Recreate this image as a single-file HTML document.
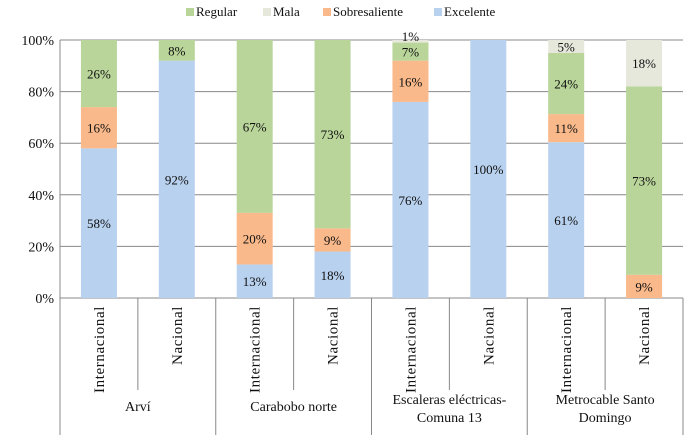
<!DOCTYPE html>
<html><head><meta charset="utf-8"><style>
body{margin:0;background:#fff;font-family:"Liberation Serif","DejaVu Serif",serif}
svg{display:block}
svg text{font-family:"Liberation Serif","DejaVu Serif",serif !important;fill:#111}
</style></head><body>
<svg id="c" width="700" height="442" font-family="Liberation Serif, DejaVu Serif, serif"></svg>
<script>
const categories=["Internacional","Nacional","Internacional","Nacional","Internacional","Nacional","Internacional","Nacional"];
const groups=["Arví","Carabobo norte","Escaleras eléctricas-|Comuna 13","Metrocable Santo|Domingo"];
const excelente=[58,92,13,18,76,100,61,0];
const sobresaliente=[16,0,20,9,16,0,11,9];
const regular=[26,8,67,73,7,0,24,73];
const mala=[0,0,0,0,1,0,5,18];
const yTicks=[0,20,40,60,80,100];
const series=[["Excelente",excelente,"#b8d1ee"],["Sobresaliente",sobresaliente,"#f9b98b"],["Regular",regular,"#b9d59a"],["Mala",mala,"#e7e8dc"]];
const svg=document.getElementById('c');const NS="http://www.w3.org/2000/svg";
const FF="Liberation Serif, DejaVu Serif, serif";
function el(t,a,p){const e=document.createElementNS(NS,t);for(const k in a)e.setAttribute(k,a[k]);if(t==='text')e.setAttribute('font-family',FF);(p||svg).appendChild(e);return e;}
const L=60,R=683,T=40,B=298;const slot=(R-L)/categories.length;
const y=v=>B-(B-T)*v/100;const xc=i=>L+slot*(i+0.5);
yTicks.forEach(t=>{const g=el('line',{x1:L,x2:R,y1:y(t),y2:y(t),stroke:'#888','stroke-width':1});

const tx=el('text',{x:L-6,y:y(t)+5,'text-anchor':'end','font-size':14});tx.textContent=t+'%';
});
el('line',{x1:L,x2:L,y1:T,y2:B,stroke:'#888'});
categories.forEach((c,i)=>{let tot=0;series.forEach(s=>tot+=s[1][i]);let acc=0;
series.forEach(s=>{const v=s[1][i];if(v<=0)return;const v0=acc/tot*100,v1=(acc+v)/tot*100;acc+=v;
const r=el('rect',{x:xc(i)-18,width:36,y:y(v1),height:y(v0)-y(v1),fill:s[2]});

const tx=el('text',{x:xc(i),y:(y(v0)+y(v1))/2+5,'text-anchor':'middle','font-size':13});

tx.textContent=v+'%';if(v==1)tx.setAttribute('y',y(v1)+1);});
const lt=el('text',{transform:`translate(${xc(i)+5},${B+8}) rotate(-90)`,'text-anchor':'end','font-size':15,'letter-spacing':'0.6'});
lt.textContent=c;});
for(let k=0;k<=categories.length;k++){const big=k%2==0;
el('line',{x1:L+slot*k,x2:L+slot*k,y1:B,y2:big?435:390,stroke:'#888'});}
groups.forEach((g,j)=>{const cx=L+slot*(2*j+1);const parts=g.split('|');
parts.forEach((p,m)=>{const t=el('text',{x:cx,y:(parts.length>1?404:411)+m*18,'text-anchor':'middle','font-size':14});
t.textContent=p;});});
const leg=[["Regular","#b9d59a",186],["Mala","#e7e8dc",263],["Sobresaliente","#f9b98b",323],["Excelente","#b8d1ee",434]];
leg.forEach(l=>{const r=el('rect',{x:l[2],y:8,width:8,height:8,fill:l[1]});

const t=el('text',{x:l[2]+10,y:16,'font-size':13});t.textContent=l[0];
});
</script></body></html>
